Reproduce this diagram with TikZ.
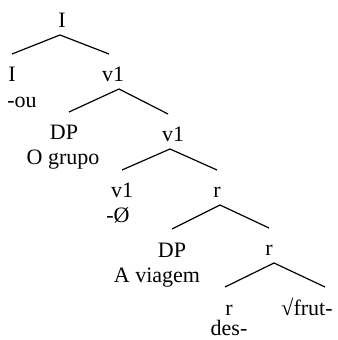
\documentclass[tikz,border=0pt]{standalone}
\usepackage{fontspec}
\setmainfont{Liberation Serif}
\usepackage{tikz}
\tikzset{
    every node/.style={font=\fontsize{11}{13}\selectfont},
    cat/.style={anchor=base, inner sep=0pt, outer ysep=3.5pt, text height=10.5pt, text depth=0pt},
    morph/.style={anchor=base, inner sep=0pt}
}

\begin{document}
\begin{tikzpicture}[x=0.5pt, y=-0.5pt, line width=0.6pt]
    \useasboundingbox (0,0) rectangle (337,340);
    \node (I0) [cat] at (62,28) {I};
    \node (I1) [cat] at (12,82) {I};
    \node (ou) [morph] at (22,108) {-ou};
    \node (v1a) [cat] at (113,82) {v1};
    \node (DPa) [cat] at (64,140) {DP};
    \node (grupo) [morph] at (63,165) {O grupo};
    \node (v1b) [cat] at (173,142) {v1};
    \node (v1c) [cat] at (122,198) {v1};
    \node (zero) [morph] at (118,223) {-Ø};
    \node (ra) [cat] at (217,198) {r};
    \node (DPb) [cat] at (172,257) {DP};
    \node (viagem) [morph] at (157,282) {A viagem};
    \node (rb) [cat] at (269,256) {r};
    \node (rc) [cat] at (229,315) {r};
    \node (des) [morph] at (229,335) {des-};
    \node (frut) [cat] at (307,315) {√frut-};

    \draw ([xshift=-1pt]I0.south) -- (I1.north);
    \draw ([xshift=-1pt]I0.south) -- ([xshift=-2pt]v1a.north);
    \draw ([xshift=3pt]v1a.south) -- ([xshift=2.5pt]DPa.north);
    \draw ([xshift=3pt]v1a.south) -- ([xshift=-2.5pt]v1b.north);
    \draw ([xshift=-1.5pt]v1b.south) -- (v1c.north);
    \draw ([xshift=-1.5pt]v1b.south) -- (ra.north);
    \draw ([xshift=1.5pt]ra.south) -- (DPb.north);
    \draw ([xshift=1.5pt]ra.south) -- (rb.north);
    \draw ([xshift=2.5pt]rb.south) -- ([xshift=-2pt]rc.north);
    \draw ([xshift=2.5pt]rb.south) -- ([xshift=9pt]frut.north);
\end{tikzpicture}
\end{document}
